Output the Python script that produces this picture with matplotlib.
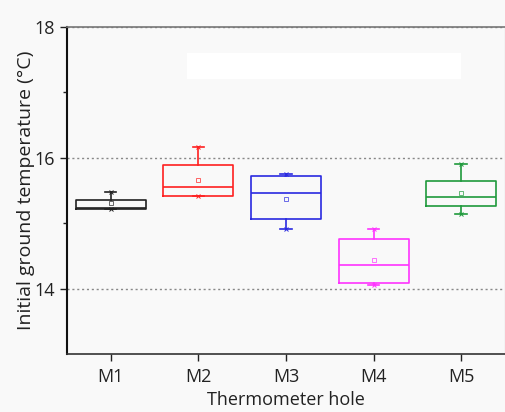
import matplotlib.pyplot as plt
from matplotlib.patches import Rectangle

# values (°C)
holes = ["M1", "M2", "M3", "M4", "M5"]
whisker_low = [15.22, 15.42, 14.92, 14.06, 15.14]
q1 = [15.22, 15.42, 15.07, 14.09, 15.27]
median = [15.23, 15.55, 15.47, 14.37, 15.40]
q3 = [15.36, 15.90, 15.73, 14.76, 15.65]
whisker_high = [15.48, 16.17, 15.75, 14.92, 15.91]
mean = [15.31, 15.67, 15.38, 14.44, 15.47]
colors = ["#222222", "#ff2020", "#2a2ae0", "#ff33ff", "#1f9a3c"]

plt.rcParams['font.family'] = ['Open Sans', 'DejaVu Sans']

fig = plt.figure(figsize=(5.06, 4.12), dpi=100, facecolor='#f9f9f9')
ax = fig.add_axes([0.1324, 0.1396, 0.8656, 0.795])
ax.set_facecolor('#f9f9f9')

for i, h in enumerate(holes):
    stats = [{"label": h, "whislo": whisker_low[i], "q1": q1[i], "med": median[i],
              "q3": q3[i], "whishi": whisker_high[i], "mean": mean[i], "fliers": []}]
    c = colors[i]
    ax.bxp(stats, positions=[i + 1], widths=0.8, showmeans=True, shownotches=False,
           boxprops=dict(color=c, linewidth=1.2),
           medianprops=dict(color=c, linewidth=1.2),
           whiskerprops=dict(color=c, linewidth=1.2),
           capprops=dict(color=c, linewidth=1.2),
           capwidths=0.13,
           meanprops=dict(marker='s', markersize=2.2, markerfacecolor='none',
                          markeredgecolor=c, markeredgewidth=0.6, alpha=0.8))
    ax.plot([i + 1, i + 1], [whisker_low[i], whisker_high[i]], linestyle='none',
            marker='x', markersize=2.5, color=c, markeredgewidth=0.7)

ax.set_xlim(0.5, 5.5)
ax.set_ylim(13, 18)
ax.set_xticks(range(1, 6))
ax.set_xticklabels(holes)
ax.set_yticks([14, 16, 18])
ax.set_yticks([15, 17], minor=True)
ax.yaxis.grid(True, which='major', linestyle=(0, (1.5, 2)), color='#888888', linewidth=1)
ax.set_axisbelow(True)

ax.tick_params(axis='both', which='major', direction='out', length=5, width=1,
               labelsize=13, colors='#222222')
ax.tick_params(axis='x', which='major', pad=5)
ax.tick_params(axis='y', which='minor', direction='out', length=3, width=1, color='#222222')

ax.spines['left'].set_linewidth(1.5)
ax.spines['left'].set_color('#111111')
ax.spines['bottom'].set_linewidth(1.2)
ax.spines['bottom'].set_color('#333333')
ax.spines['top'].set_color('#777777')
ax.spines['top'].set_linewidth(1.2)
ax.spines['right'].set_color('#999999')
ax.spines['right'].set_linewidth(0.8)

ax.set_xlabel("Thermometer hole", fontsize=13, color='#222222', labelpad=3)
ax.set_ylabel("Initial ground temperature (°C)", fontsize=14, color='#222222', labelpad=0)

# blank legend box
ax.add_patch(Rectangle((0.273, 0.84), 0.627, 0.08, transform=ax.transAxes,
                       facecolor='white', edgecolor='none', zorder=3))

plt.savefig("out.png", dpi=100, facecolor=fig.get_facecolor())
